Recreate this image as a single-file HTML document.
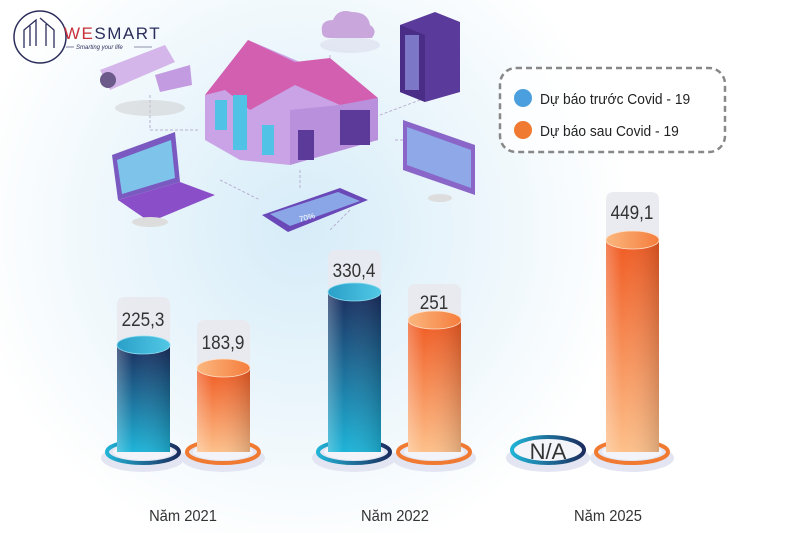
<!DOCTYPE html>
<html><head><meta charset="utf-8"><style>
html,body{margin:0;padding:0;background:#fff}
svg{display:block}
text{font-family:"Liberation Sans",sans-serif}
</style></head><body>
<svg width="800" height="533" viewBox="0 0 800 533" xmlns="http://www.w3.org/2000/svg">
<defs>
<radialGradient id="bg" cx="300" cy="230" r="330" gradientUnits="userSpaceOnUse">
<stop offset="0" stop-color="#d6ecf8"/><stop offset="0.6" stop-color="#eef7fc"/><stop offset="1" stop-color="#ffffff"/>
</radialGradient>
<linearGradient id="bl" x1="0" y1="0" x2="0" y2="1"><stop offset="0" stop-color="#1b2d5e"/><stop offset="1" stop-color="#1eb4d8"/></linearGradient>
<linearGradient id="blh" x1="0" y1="0" x2="1" y2="0"><stop offset="0" stop-color="#fff" stop-opacity="0.25"/><stop offset="0.3" stop-color="#fff" stop-opacity="0"/><stop offset="1" stop-color="#000" stop-opacity="0.15"/></linearGradient>
<linearGradient id="bt" x1="0" y1="0" x2="1" y2="0"><stop offset="0" stop-color="#2a9fc8"/><stop offset="1" stop-color="#52c8e6"/></linearGradient>
<linearGradient id="or" x1="0" y1="0" x2="0" y2="1"><stop offset="0" stop-color="#f05a22"/><stop offset="1" stop-color="#fdc08a"/></linearGradient>
<linearGradient id="ot" x1="0" y1="0" x2="1" y2="0"><stop offset="0" stop-color="#fbb77f"/><stop offset="1" stop-color="#f57d3d"/></linearGradient>
<linearGradient id="rb" x1="0" y1="0" x2="1" y2="0"><stop offset="0" stop-color="#21b3d6"/><stop offset="1" stop-color="#1b2d5e"/></linearGradient>
</defs>
<rect width="800" height="533" fill="url(#bg)"/>

<!-- logo -->
<circle cx="40" cy="37" r="26" fill="none" stroke="#2b2d5a" stroke-width="1.5"/>
<path d="M24 48 L24 30 L36 20 L36 46 M30 46 L30 26 M40 18 L54 30 L54 48 M46 46 L46 24" fill="none" stroke="#2b2d5a" stroke-width="1.3"/>
<text x="64" y="39" font-size="17" letter-spacing="1.5" fill="#2b2d5a"><tspan fill="#c8303a">WE</tspan>SMART</text>
<text x="76" y="49" font-size="6" font-style="italic" fill="#2b2d5a">Smarting your life</text>
<line x1="66" y1="47" x2="74" y2="47" stroke="#2b2d5a" stroke-width="0.6"/><line x1="134" y1="47" x2="152" y2="47" stroke="#2b2d5a" stroke-width="0.6"/>

<!-- dashed network lines -->
<g fill="none" stroke="#b8b0d0" stroke-width="1" stroke-dasharray="3,2">
<path d="M150 95 L150 130 L200 130 M330 55 L330 70 M350 210 L330 230 M395 140 L430 140 M380 115 L420 100 M220 180 L260 200 M300 170 L300 190"/>
</g>
<!-- cloud -->
<ellipse cx="350" cy="45" rx="30" ry="8" fill="#dcdcec" opacity="0.6"/>
<path d="M322 32 Q320 20 333 20 Q338 8 352 12 Q368 12 370 25 Q378 30 372 38 L330 38 Q322 38 322 32Z" fill="#c9a6dc"/>
<!-- server -->
<polygon points="400,25 435,12 460,22 460,92 425,102 400,92" fill="#5a3a9a"/>
<polygon points="400,25 425,35 425,102 400,92" fill="#4a2d86"/>
<rect x="405" y="35" width="14" height="55" fill="#8a8ad8" opacity="0.8"/>
<!-- camera -->
<ellipse cx="150" cy="108" rx="35" ry="8" fill="#ccc" opacity="0.5"/>
<polygon points="100,70 165,45 175,62 110,90" fill="#d4b6ea"/>
<polygon points="155,75 190,65 192,85 160,92" fill="#c39be0"/>
<circle cx="108" cy="80" r="8" fill="#6b5a8a"/>
<!-- house -->
<polygon points="205,95 248,40 300,62 378,98 340,115 290,165 240,160 205,140" fill="#c9a3e6"/>
<polygon points="205,95 248,40 295,62 330,58 378,98 340,105 295,85 250,110 225,90" fill="#d35fb0"/>
<polygon points="290,110 340,105 378,98 378,140 290,165" fill="#b990dc"/>
<rect x="340" y="110" width="30" height="35" fill="#5b3a9a"/>
<rect x="215" y="100" width="12" height="30" fill="#4fc2e6"/>
<rect x="233" y="95" width="14" height="55" fill="#4fc2e6"/>
<rect x="262" y="125" width="12" height="30" fill="#4fc2e6"/>
<rect x="298" y="130" width="16" height="30" fill="#5b3a9a"/>
<!-- laptop -->
<polygon points="112,155 175,132 180,182 118,200" fill="#7a5ac0"/>
<polygon points="117,160 171,140 175,178 122,194" fill="#7ec3ea"/>
<polygon points="118,200 180,182 215,195 150,222" fill="#8a4fc8"/>
<ellipse cx="150" cy="222" rx="18" ry="5" fill="#ddd"/>
<!-- phone -->
<polygon points="262,215 340,188 368,200 288,232" fill="#6a48b8"/>
<polygon points="270,214 338,192 360,201 290,226" fill="#8aa6e6"/>
<text x="300" y="222" font-size="8" fill="#fff" transform="rotate(-15 300 222)">70%</text>
<!-- monitor -->
<polygon points="403,120 475,145 475,195 403,170" fill="#8a66c8"/>
<polygon points="407,127 471,150 471,188 407,165" fill="#8ea8e8"/>
<ellipse cx="440" cy="198" rx="12" ry="4" fill="#ddd"/>

<!-- legend -->
<rect x="500" y="68" width="225" height="84" rx="16" fill="#fff" fill-opacity="0.7" stroke="#888" stroke-width="2.5" stroke-dasharray="6,4"/>
<circle cx="523" cy="98" r="9" fill="#4b9fde"/>
<circle cx="523" cy="130" r="9" fill="#f07a32"/>
<text x="540" y="104" font-size="15" fill="#222" transform="scale(0.92,1)" transform-origin="540 104">Dự báo trước Covid - 19</text>
<text x="540" y="136" font-size="15" fill="#222" transform="scale(0.92,1)" transform-origin="540 136">Dự báo sau Covid - 19</text>

<!-- bases -->
<g>
<ellipse cx="143" cy="458" rx="42" ry="14" fill="#e3e6f2"/>
<ellipse cx="143" cy="452" rx="36" ry="11" fill="none" stroke="url(#rb)" stroke-width="4"/>
<ellipse cx="143" cy="452" rx="30" ry="8" fill="#f2f4fa"/>
<ellipse cx="223" cy="458" rx="42" ry="14" fill="#e3e6f2"/>
<ellipse cx="223" cy="452" rx="36" ry="11" fill="none" stroke="#f07a32" stroke-width="4"/>
<ellipse cx="223" cy="452" rx="30" ry="8" fill="#f2f4fa"/>
<ellipse cx="354" cy="458" rx="42" ry="14" fill="#e3e6f2"/>
<ellipse cx="354" cy="452" rx="36" ry="11" fill="none" stroke="url(#rb)" stroke-width="4"/>
<ellipse cx="354" cy="452" rx="30" ry="8" fill="#f2f4fa"/>
<ellipse cx="434" cy="458" rx="42" ry="14" fill="#e3e6f2"/>
<ellipse cx="434" cy="452" rx="36" ry="11" fill="none" stroke="#f07a32" stroke-width="4"/>
<ellipse cx="434" cy="452" rx="30" ry="8" fill="#f2f4fa"/>
<ellipse cx="548" cy="458" rx="42" ry="14" fill="#e3e6f2"/>
<ellipse cx="548" cy="450" rx="36" ry="13" fill="#f4f5fa" stroke="url(#rb)" stroke-width="4"/>
<text x="548" y="459" font-size="22" text-anchor="middle" fill="#333">N/A</text>
<ellipse cx="632" cy="458" rx="42" ry="14" fill="#e3e6f2"/>
<ellipse cx="632" cy="452" rx="36" ry="11" fill="none" stroke="#f07a32" stroke-width="4"/>
<ellipse cx="632" cy="452" rx="30" ry="8" fill="#f2f4fa"/>
</g>

<!-- label boxes -->
<g fill="#e8e9ee" fill-opacity="0.9">
<path d="M117 345 L117 305 Q117 297 125 297 L162 297 Q170 297 170 305 L170 345Z"/>
<path d="M197 368 L197 328 Q197 320 205 320 L242 320 Q250 320 250 328 L250 368Z"/>
<path d="M328 292 L328 258 Q328 250 336 250 L373 250 Q381 250 381 258 L381 292Z"/>
<path d="M408 320 L408 292 Q408 284 416 284 L453 284 Q461 284 461 292 L461 320Z"/>
<path d="M606 240 L606 200 Q606 192 614 192 L651 192 Q659 192 659 200 L659 240Z"/>
</g>
<g font-size="19" fill="#333" text-anchor="middle">
<text x="143" y="326" transform="scale(0.9,1)" transform-origin="143 326">225,3</text>
<text x="223" y="349" transform="scale(0.9,1)" transform-origin="223 349">183,9</text>
<text x="354" y="277" transform="scale(0.9,1)" transform-origin="354 277">330,4</text>
<text x="434" y="309" transform="scale(0.9,1)" transform-origin="434 309">251</text>
<text x="632" y="219" transform="scale(0.9,1)" transform-origin="632 219">449,1</text>
</g>

<!-- cylinders -->
<g>
<rect x="117" y="345" width="53" height="107" fill="url(#bl)"/><rect x="117" y="345" width="53" height="107" fill="url(#blh)"/>
<ellipse cx="143.5" cy="345" rx="26.5" ry="9" fill="url(#bt)" stroke="#8fdcf0" stroke-width="0.8"/>
<rect x="197" y="368" width="53" height="84" fill="url(#or)"/><rect x="197" y="368" width="53" height="84" fill="url(#blh)"/>
<ellipse cx="223.5" cy="368" rx="26.5" ry="9" fill="url(#ot)" stroke="#fde0c8" stroke-width="0.8"/>
<rect x="328" y="292" width="53" height="160" fill="url(#bl)"/><rect x="328" y="292" width="53" height="160" fill="url(#blh)"/>
<ellipse cx="354.5" cy="292" rx="26.5" ry="9" fill="url(#bt)" stroke="#8fdcf0" stroke-width="0.8"/>
<rect x="408" y="320" width="53" height="132" fill="url(#or)"/><rect x="408" y="320" width="53" height="132" fill="url(#blh)"/>
<ellipse cx="434.5" cy="320" rx="26.5" ry="9" fill="url(#ot)" stroke="#fde0c8" stroke-width="0.8"/>
<rect x="606" y="240" width="53" height="212" fill="url(#or)"/><rect x="606" y="240" width="53" height="212" fill="url(#blh)"/>
<ellipse cx="632.5" cy="240" rx="26.5" ry="9" fill="url(#ot)" stroke="#fde0c8" stroke-width="0.8"/>
</g>

<!-- year labels -->
<g font-size="16" fill="#333" text-anchor="middle">
<text x="183" y="521" transform="scale(0.92,1)" transform-origin="183 521">Năm 2021</text>
<text x="395" y="521" transform="scale(0.92,1)" transform-origin="395 521">Năm 2022</text>
<text x="608" y="521" transform="scale(0.92,1)" transform-origin="608 521">Năm 2025</text>
</g>
</svg>
</body></html>
